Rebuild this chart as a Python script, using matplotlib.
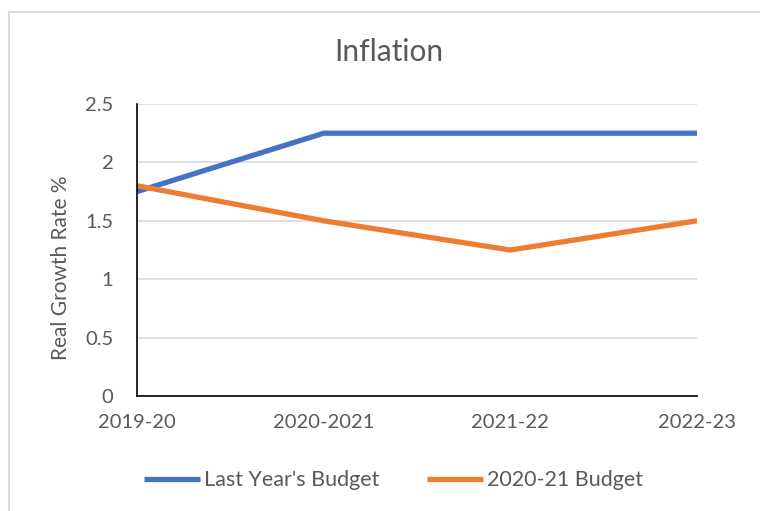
import matplotlib.pyplot as plt
from matplotlib.lines import Line2D

# Inflation forecasts by year
years = ["2019-20", "2020-2021", "2021-22", "2022-23"]
last_year_budget = [1.75, 2.25, 2.25, 2.25]
budget_2020_21 = [1.8, 1.5, 1.25, 1.5]

plt.rcParams["font.family"] = ["Lato", "DejaVu Sans"]
text_color = "#595959"

fig = plt.figure(figsize=(7.6, 5.11), dpi=100)
ax = fig.add_axes([0.1803, 0.225, 0.7368, 0.5715])

x = range(len(years))
ax.plot(x, last_year_budget, color="#4472C4", linewidth=3.8,
        solid_capstyle="butt", label="Last Year's Budget")
ax.plot(x, budget_2020_21, color="#ED7D31", linewidth=3.8,
        solid_capstyle="butt", label="2020-21 Budget")

ax.set_xlim(0, len(years) - 1)
ax.set_ylim(0, 2.5)
ax.set_yticks([0, 0.5, 1, 1.5, 2, 2.5])
ax.set_yticklabels(["0", "0.5", "1", "1.5", "2", "2.5"])
ax.set_xticks(list(x))
ax.set_xticklabels(years)
ax.tick_params(length=0, labelsize=14.5, colors=text_color)
ax.tick_params(axis="x", pad=13)
ax.tick_params(axis="y", pad=17)

ax.grid(axis="y", color="#d9d9d9", linewidth=1.2)
ax.set_axisbelow(True)
for side in ["top", "right"]:
    ax.spines[side].set_visible(False)
for side in ["left", "bottom"]:
    ax.spines[side].set_color("black")
    ax.spines[side].set_linewidth(1.2)

ax.set_ylabel("Real Growth Rate %", fontsize=15, color=text_color)
ax.yaxis.set_label_coords(-0.118, 0.44)
fig.text(0.511, 0.898, "Inflation", ha="center", va="center",
         fontsize=21.5, color=text_color)

leg = fig.legend(loc="center", bbox_to_anchor=(0.518, 0.06), ncol=2,
                 frameon=False, fontsize=15.5, handlelength=2.6,
                 handletextpad=0.2, columnspacing=2.2)
for t in leg.get_texts():
    t.set_color(text_color)

# chart frame edges
fig.add_artist(Line2D([0.012, 1.0], [0.977, 0.977], color="#d9d9d9",
                      linewidth=1.5, transform=fig.transFigure))
fig.add_artist(Line2D([0.012, 0.012], [0.0, 0.977], color="#d9d9d9",
                      linewidth=1.5, transform=fig.transFigure))

fig.savefig("out.png", dpi=100)
